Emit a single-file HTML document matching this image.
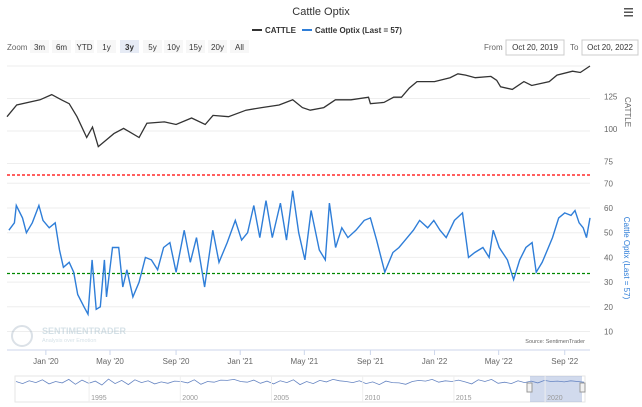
<!DOCTYPE html>
<html><head><meta charset="utf-8"><style>
body{margin:0;background:#fff;font-family:"Liberation Sans",sans-serif;}
svg{display:block}
</style></head><body>
<svg id="c" width="642" height="407" viewBox="0 0 642 407">
<text x="321" y="15" text-anchor="middle" font-size="11" fill="#333">Cattle Optix</text>
<g><rect x="624" y="8" width="9" height="1.5" fill="#555"/><rect x="624" y="11.5" width="9" height="1.5" fill="#555"/><rect x="624" y="15" width="9" height="1.5" fill="#555"/></g>
<g><line x1="252" y1="30" x2="262" y2="30" stroke="#333" stroke-width="2"/><text x="265" y="33" font-size="8" font-weight="bold" fill="#333">CATTLE</text></g>
<g><line x1="302" y1="30" x2="312" y2="30" stroke="#2f7ed8" stroke-width="2"/><text x="315" y="33" font-size="8" font-weight="bold" fill="#333">Cattle Optix (Last = 57)</text></g>
<text x="7" y="50" font-size="8" fill="#666">Zoom</text>
<g id="btns"></g>
<text x="484" y="50" font-size="8" fill="#666">From</text>
<rect x="506" y="40" width="58" height="15" fill="#fff" stroke="#ccc"/>
<text x="535" y="50" font-size="8" fill="#333" text-anchor="middle">Oct 20, 2019</text>
<text x="570" y="50" font-size="8" fill="#666">To</text>
<rect x="582" y="40" width="56" height="15" fill="#fff" stroke="#ccc"/>
<text x="610" y="50" font-size="8" fill="#333" text-anchor="middle">Oct 20, 2022</text>
<g id="grid"></g>
<line x1="7" y1="175" x2="590" y2="175" stroke="#f00" stroke-width="1.3" stroke-dasharray="3,2"/>
<line x1="7" y1="273.5" x2="590" y2="273.5" stroke="#080" stroke-width="1.3" stroke-dasharray="3,2"/>
<g opacity="0.35"><circle cx="22" cy="336" r="10" fill="none" stroke="#9ab" stroke-width="2"/><text x="42" y="334" font-size="9" font-weight="bold" fill="#8ab">SENTIMENTRADER</text><text x="42" y="342" font-size="5.5" fill="#8ab">Analysis over Emotion</text></g>
<text x="585" y="343" font-size="5.5" fill="#666" text-anchor="end">Source: SentimenTrader</text>
<path id="cattle" fill="none" stroke="#333" stroke-width="1.3"/>
<path id="optix" fill="none" stroke="#2f7ed8" stroke-width="1.4"/>
<line x1="7" y1="350" x2="590" y2="350" stroke="#ccd6eb"/>
<g id="xt"></g>
<text transform="translate(625,112) rotate(90)" font-size="8" fill="#666" text-anchor="middle">CATTLE</text>
<text transform="translate(624,258) rotate(90)" font-size="8" fill="#2f7ed8" text-anchor="middle">Cattle Optix (Last = 57)</text>
<rect x="15" y="376" width="570" height="26" fill="#fff" stroke="#e6e6e6"/>
<rect x="530" y="376" width="52" height="26" fill="rgba(102,133,194,0.3)"/>
<path id="nav" fill="none" stroke="#6685c2" stroke-width="0.8"/>
<g id="navx"></g>
<rect x="527" y="383" width="5" height="9" fill="#f2f2f2" stroke="#999"/>
<rect x="580" y="383" width="5" height="9" fill="#f2f2f2" stroke="#999"/>
</svg>
<script>
const cattleT=[0,0.05,0.17,0.23,0.28,0.32,0.36,0.41,0.44,0.47,0.51,0.55,0.60,0.68,0.72,0.81,0.87,0.95,1.02,1.06,1.14,1.23,1.31,1.40,1.47,1.52,1.56,1.63,1.69,1.77,1.86,1.87,1.94,1.99,2.03,2.07,2.11,2.20,2.28,2.32,2.36,2.41,2.49,2.52,2.54,2.60,2.66,2.70,2.79,2.83,2.91,2.95,3.0];
const cattleV=[111,120,124,128,124,121,111,95,103,88,93,98,102,95,106,107,105,110,105,112,111,116,118,120,124,118,116,118,124,124,126,121,122,126,126,133,138,138,141,144,143,141,142,139,134,132,138,135,138,143,146,145,150];
const optixT=[0.01,0.038,0.048,0.08,0.10,0.13,0.164,0.185,0.217,0.248,0.27,0.29,0.32,0.343,0.364,0.396,0.417,0.438,0.459,0.48,0.501,0.512,0.543,0.575,0.596,0.617,0.648,0.68,0.712,0.743,0.775,0.806,0.838,0.87,0.912,0.943,0.975,1.017,1.059,1.091,1.133,1.175,1.207,1.238,1.27,1.301,1.333,1.365,1.407,1.438,1.47,1.501,1.533,1.565,1.607,1.638,1.659,1.691,1.723,1.754,1.796,1.838,1.87,1.902,1.944,1.986,2.017,2.049,2.091,2.123,2.165,2.196,2.228,2.26,2.302,2.344,2.375,2.407,2.449,2.481,2.502,2.533,2.575,2.607,2.638,2.67,2.702,2.723,2.754,2.786,2.807,2.839,2.87,2.902,2.923,2.944,2.965,2.982,3.0];
const optixV=[51,54,61,56,50,54,61,55,52,54,43,36,38,34,25,20,17,39,19,20,39,24,44,44,28,35,24,30,40,39,35,44,46,34,51,38,48,28,51,38,46,55,47,50,61,48,63,48,62,47,67,50,39,59,43,39,62,44,52,48,51,55,56,47,34,42,44,47,51,55,52,55,51,48,55,58,40,42,44,40,51,44,39,31,39,44,46,34,38,44,48,56,58,57,59,54,52,48,56];
const cattleTicks=[75,100,125,150];
const cattleLabels=["75","100","125",""];
const optixTicks=[10,20,30,40,50,60,70];
const xLabels=["Jan '20","May '20","Sep '20","Jan '21","May '21","Sep '21","Jan '22","May '22","Sep '22"];
const xLabelT=[0.2,0.53,0.87,1.2,1.53,1.87,2.2,2.53,2.87];
const navV=[50,44,52,47,55,43,50,46,56,42,54,45,51,40,57,44,53,41,55,47,52,43,49,45,51,50,46,55,42,50,48,54,53,56,50,48,54,45,51,43,52,47,55,41,50,44,53,49,56,52,50,47,52,44,49,41,51,47,46,42,50,53,51,56,48,52,50,54,49,43,55,50,56,45,48,44,52,47,51,46,53,50,51,49,52,50,48];
const navYears=["1995","2000","2005","2010","2015","2020"];
const navYearX=[0.13,0.29,0.45,0.61,0.77,0.93];
const btnLabels=["3m","6m","YTD","1y","3y","5y","10y","15y","20y","All"];
const NS="http://www.w3.org/2000/svg";
const X=t=>7+t/3*583;
const YC=v=>131-(v-100)*1.3;
const YO=v=>183.3+(70-v)*2.47;
function mk(tag,attrs,parent,txt){const e=document.createElementNS(NS,tag);for(const k in attrs)e.setAttribute(k,attrs[k]);if(txt!==undefined)e.textContent=txt;parent.appendChild(e);return e;}
const grid=document.getElementById('grid');
cattleTicks.forEach((v,i)=>{
  const l=mk('line',{x1:7,x2:590,y1:YC(v),y2:YC(v),stroke:'#eee'},grid);
  
  
  const t=mk('text',{x:604,y:YC(v)+1,'font-size':8,fill:'#666'},grid,cattleLabels[i]);
  
  
});
optixTicks.forEach(v=>{
  const l=mk('line',{x1:7,x2:590,y1:YO(v),y2:YO(v),stroke:'#eee'},grid);
  
  
  const t=mk('text',{x:604,y:YO(v)+3,'font-size':8,fill:'#666'},grid,v);
  
  
});
document.getElementById('cattle').setAttribute('d',cattleT.map((t,i)=>(i?'L':'M')+X(t).toFixed(1)+','+YC(cattleV[i]).toFixed(1)).join(''));
document.getElementById('optix').setAttribute('d',optixT.map((t,i)=>(i?'L':'M')+X(t).toFixed(1)+','+YO(optixV[i]).toFixed(1)).join(''));
const xt=document.getElementById('xt');
xLabels.forEach((s,i)=>{
  mk('line',{x1:X(xLabelT[i]),x2:X(xLabelT[i]),y1:350,y2:355,stroke:'#ccd6eb'},xt);
  const t=mk('text',{x:X(xLabelT[i]),y:364,'font-size':8,fill:'#666','text-anchor':'middle'},xt,s);
  
  
});
document.getElementById('nav').setAttribute('d',navV.map((v,i)=>(i?'L':'M')+(16+i/(navV.length-1)*568).toFixed(1)+','+(399-v*0.35).toFixed(1)).join(''));
const navx=document.getElementById('navx');
navYears.forEach((s,i)=>{
  const x=15+navYearX[i]*570;
  mk('line',{x1:x,x2:x,y1:376,y2:402,stroke:'#eee'},navx);
  const t=mk('text',{x:x+2,y:400,'font-size':7,fill:'#999'},navx,s);
  
  
});
const btns=document.getElementById('btns');
const bx=[30,52,75,97,120,143,164,186,208,230];
btnLabels.forEach((s,i)=>{
  const g=mk('g',{},btns);
  
  
  mk('rect',{x:bx[i],y:40,width:19,height:13,fill:s==='3y'?'#e6ebf5':'#f7f7f7'},g);
  mk('text',{x:bx[i]+9.5,y:50,'font-size':8,'text-anchor':'middle',fill:'#333','font-weight':s==='3y'?'bold':'normal'},g,s);
});
</script>
</body></html>
